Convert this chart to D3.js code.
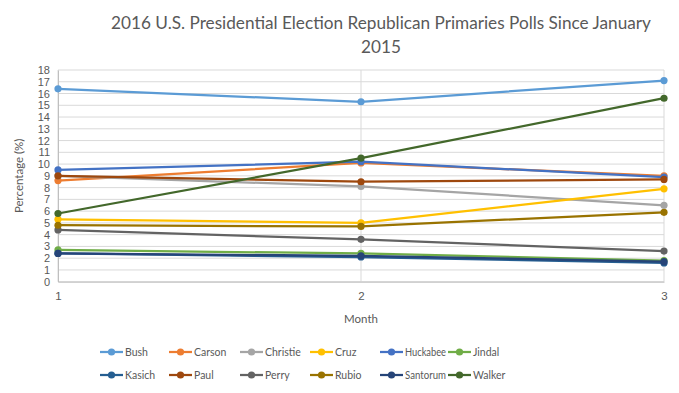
<!DOCTYPE html>
<html>
<head>
<meta charset="utf-8">
<script src="https://cdn.jsdelivr.net/npm/d3@7"></script>
<style>
  body { margin: 0; background: #fff; }
  svg { font-family: Lato, "Open Sans", sans-serif; }
</style>
</head>
<body>
<svg width="679" height="393"></svg>
<script>
const months = [1, 2, 3];
const candidates = ["Bush", "Carson", "Christie", "Cruz", "Huckabee", "Jindal",
                    "Kasich", "Paul", "Perry", "Rubio", "Santorum", "Walker"];
const bush     = [16.4, 15.3, 17.1];
const carson   = [8.6, 10.1, 9.0];
const christie = [9.0, 8.1, 6.5];
const cruz     = [5.3, 5.0, 7.9];
const huckabee = [9.5, 10.2, 8.9];
const jindal   = [2.7, 2.4, 1.8];
const kasich   = [2.4, 2.1, 1.6];
const paul     = [9.0, 8.5, 8.7];
const perry    = [4.4, 3.6, 2.6];
const rubio    = [4.8, 4.7, 5.9];
const santorum = [2.4, 2.2, 1.7];
const walker   = [5.8, 10.5, 15.6];
const yTicks = d3.range(0, 19);

const colors = ["#5B9BD5", "#ED7D31", "#A5A5A5", "#FFC000", "#4472C4", "#70AD47",
                "#255E91", "#9E480E", "#636363", "#997300", "#264478", "#43682B"];
const values = [bush, carson, christie, cruz, huckabee, jindal,
                kasich, paul, perry, rubio, santorum, walker];

const series = candidates.map((name, i) => ({
  name, color: colors[i],
  points: months.map((m, j) => ({ m, v: values[i][j] }))
}));

const svg = d3.select("svg");

const x = d3.scaleLinear().domain([1, 3]).range([58, 664]);
const y = d3.scaleLinear().domain([0, 18]).range([281.7, 70]);

// gridlines
svg.append("g")
  .selectAll("line")
  .data(yTicks)
  .join("line")
  .attr("x1", x(1)).attr("x2", x(3))
  .attr("y1", d => y(d)).attr("y2", d => y(d))
  .attr("stroke", "#D9D9D9").attr("stroke-width", 1);

svg.append("g")
  .selectAll("line")
  .data(months)
  .join("line")
  .attr("x1", d => x(d)).attr("x2", d => x(d))
  .attr("y1", y(0)).attr("y2", y(18))
  .attr("stroke", "#D9D9D9").attr("stroke-width", 1);

// axes
const yAxis = svg.append("g")
  .attr("transform", `translate(${x(1)},0)`)
  .call(d3.axisLeft(y).tickValues(yTicks).tickSize(0).tickPadding(8));
yAxis.select(".domain").attr("stroke", "#BFBFBF");
yAxis.selectAll("text").attr("fill", "#595959").style("font-size", "11px");

const xAxis = svg.append("g")
  .attr("transform", `translate(0,${y(0)})`)
  .call(d3.axisBottom(x).tickValues(months).tickFormat(d3.format("d")).tickSize(0).tickPadding(10));
xAxis.select(".domain").attr("stroke", "#BFBFBF");
xAxis.selectAll("text").attr("fill", "#595959").style("font-size", "11.5px");

// lines
const line = d3.line().x(d => x(d.m)).y(d => y(d.v));

const g = svg.append("g");
series.forEach(s => {
  g.append("path")
    .datum(s.points)
    .attr("d", line)
    .attr("fill", "none")
    .attr("stroke", s.color)
    .attr("stroke-width", 2.25)
    .attr("stroke-linejoin", "round");
  g.selectAll(null)
    .data(s.points)
    .join("circle")
    .attr("cx", d => x(d.m))
    .attr("cy", d => y(d.v))
    .attr("r", 3.6)
    .attr("fill", s.color);
});

// titles
svg.append("text")
  .attr("x", 381).attr("y", 29)
  .attr("text-anchor", "middle")
  .attr("fill", "#595959")
  .style("font-size", "17.2px")
  .text("2016 U.S. Presidential Election Republican Primaries Polls Since January");
svg.append("text")
  .attr("x", 381).attr("y", 53)
  .attr("text-anchor", "middle")
  .attr("fill", "#595959")
  .style("font-size", "17.2px")
  .text("2015");

svg.append("text")
  .attr("transform", `translate(23,${(y(0) + y(18)) / 2}) rotate(-90)`)
  .attr("text-anchor", "middle")
  .attr("fill", "#595959")
  .style("font-size", "11.5px")
  .text("Percentage (%)");

svg.append("text")
  .attr("x", x(2)).attr("y", 323)
  .attr("text-anchor", "middle")
  .attr("fill", "#595959")
  .style("font-size", "11.5px")
  .text("Month");

// legend - columns as in the original (last one a bit closer)
const legendX = [100, 169, 240, 310, 380, 448];
const legend = svg.append("g");
series.forEach((s, i) => {
  const col = i % 6, row = Math.floor(i / 6);
  const item = legend.append("g").attr("transform", `translate(${legendX[col]},${352 + row * 23})`);
  item.append("line")
    .attr("x1", 0).attr("x2", 23)
    .attr("y1", 0).attr("y2", 0)
    .attr("stroke", s.color).attr("stroke-width", 2.25);
  item.append("circle").attr("cx", 11.5).attr("cy", 0).attr("r", 3.6).attr("fill", s.color);
  const t = item.append("text")
    .attr("x", 25).attr("y", 4)
    .attr("fill", "#595959")
    .style("font-size", "10.5px")
    .text(s.name);
  // squeeze long names so they don't run into the next entry
  if (t.node().getComputedTextLength() > 41) {
    t.attr("textLength", 41).attr("lengthAdjust", "spacingAndGlyphs");
  }
});
</script>
</body>
</html>
